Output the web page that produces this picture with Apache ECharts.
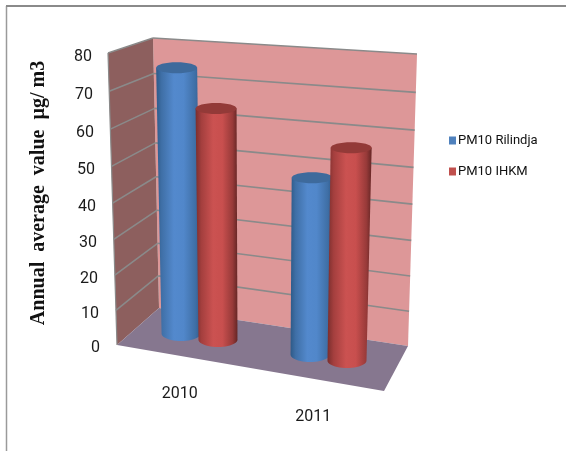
<!DOCTYPE html>
<html><head><meta charset="utf-8">
<style>html,body{margin:0;padding:0;background:#fff}#c{width:566px;height:451px}</style>
<script src="https://cdn.jsdelivr.net/npm/echarts@6/dist/echarts.min.js"></script>
</head><body><div id="c"></div>
<script>
const categories = ['2010', '2011'];
const rilindja = [75, 49];
const ihkm = [65, 58];
const yTicks = [0, 10, 20, 30, 40, 50, 60, 70, 80];
const yName = 'Annual  average  value  µg/ m3';

// Screen corners of the 3-D box at value 0 and at axis max (f/b = front/back, l/r = left/right)
const box = {
  bottom: {fl:[117,345], fr:[384,391], bl:[159,308], br:[408,346]},
  top:    {fl:[108,53],  fr:[393,79],  bl:[153,38],  br:[417,54]}
};
const PERSPECTIVE = 1.058;
const SANS = 'Roboto';
function lerp(a,b,t){return [a[0]+(b[0]-a[0])*t, a[1]+(b[1]-a[1])*t];}
function plane(p,u,d){return lerp(lerp(p.fl,p.fr,u), lerp(p.bl,p.br,u), d);}
// t is the value's fraction of the axis as given by the library's scale
function project(u,d,t){
  const f = t/(t+PERSPECTIVE*(1-t));
  return lerp(plane(box.bottom,u,d), plane(box.top,u,d), f);
}
function frac(params,api,cat,v){
  const g = params.coordSys;
  return (g.y+g.height-api.coord([cat,v])[1])/g.height;
}
function uOf(params,api,cat){
  const g = params.coordSys;
  return (api.coord([cat,0])[0]-g.x)/g.width;
}
const wallColor='#DD9798', sideColor='#8D5F5E', floorColor='#86778F', gridColor='#8A8A8A';

function renderWalls(params,api){
  const poly=(pts,fill)=>({type:'polygon',shape:{points:pts},style:{fill:fill}});
  const P=project;
  const ln=(a,b)=>({type:'line',shape:{x1:a[0],y1:a[1],x2:b[0],y2:b[1]},style:{stroke:gridColor,lineWidth:1.2}});
  return {type:'group',children:[
    poly([P(0,1,0),P(1,1,0),P(1,1,1),P(0,1,1)],wallColor),
    poly([P(0,0,0),P(0,1,0),P(0,1,1),P(0,0,1)],sideColor),
    poly([P(0,0,0),P(1,0,0),P(1,1,0),P(0,1,0)],floorColor),
    ln(P(0,0,0),P(0,0,1))
  ]};
}
function renderGrid(params,api){
  const v=api.value(0);
  const t=frac(params,api,0,v);
  if(t===0){
    return {type:'group',children:[]};
  }
  const ln=(a,b)=>({type:'line',shape:{x1:a[0],y1:a[1],x2:b[0],y2:b[1]},style:{stroke:gridColor,lineWidth:1.6}});
  return {type:'group',children:[ln(project(0,0,t),project(0,1,t)),ln(project(0,1,t),project(1,1,t))]};
}
function cylinder(offset,stops,capColor){
  return function(params,api){
    const cat=api.value(0), val=api.value(1);
    const u=uOf(params,api,cat)+offset;
    const base=project(u,0.5,0), top=project(u,0.5,frac(params,api,cat,val));
    const rxB=19.5, ryB=7.5, rxT=20.5, ryT=5.5;
    const pts=[[top[0]-rxT,top[1]]];
    for(let i=0;i<=24;i++){
      const a=Math.PI*(1-i/24);
      pts.push([base[0]+rxB*Math.cos(a), base[1]+ryB*Math.sin(a)]);
    }
    pts.push([top[0]+rxT,top[1]]);
    return {type:'group',children:[
      {type:'polygon',shape:{points:pts},style:{fill:{type:'linear',x:0,y:0,x2:1,y2:0,colorStops:stops}}},
      {type:'ellipse',shape:{cx:top[0],cy:top[1],rx:rxT,ry:ryT},style:{fill:capColor}}
    ]};
  };
}
const blueStops=[{offset:0,color:'#2E5A88'},{offset:.12,color:'#3F6FA6'},{offset:.4,color:'#5389CD'},{offset:.62,color:'#5187CA'},{offset:.88,color:'#3F6FA6'},{offset:1,color:'#305C8C'}];
const redStops=[{offset:0,color:'#7A2E2D'},{offset:.14,color:'#A43F3E'},{offset:.42,color:'#CB5251'},{offset:.64,color:'#C84F4E'},{offset:.88,color:'#983A39'},{offset:1,color:'#652625'}];

const labelStyles={};
yTicks.forEach(v=>{
  const down={0:2.5,10:5,20:6.5,30:7,40:7.5,50:7,60:6.5,70:5,80:3.5}[v];
  labelStyles['t'+v]={fontFamily:SANS,fontSize:16,color:'#1a1a1a',padding:[down*2,v*0.1,0,0]};
});

const chart=echarts.init(document.getElementById('c'),null,{renderer:'canvas'});
chart.setOption({
  animation:false,
  backgroundColor:'#fff',
  graphic:[
    {type:'line',shape:{x1:6.5,y1:6,x2:6.5,y2:451},style:{stroke:'#9a9a9a',lineWidth:1.5}},
    {type:'line',shape:{x1:6,y1:6,x2:566,y2:6},style:{stroke:'#8a8a8a',lineWidth:2}}
  ],
  legend:{
    orient:'vertical',left:444,top:129,itemWidth:7,itemHeight:8,itemGap:18,
    icon:'rect',
    data:['PM10 Rilindja','PM10 IHKM'],
    textStyle:{fontFamily:SANS,fontSize:13,color:'#111',padding:[0,0,0,-3]}
  },
  grid:{left:117,top:53,width:267,height:292},
  xAxis:{
    type:'category',data:categories,
    axisLine:{show:false},axisTick:{show:false},splitLine:{show:false},
    axisLabel:{
      margin:41,interval:0,
      formatter:(v)=>v==='2011'?'{b|'+v+'}':'{a|'+v+'}',
      rich:{
        a:{fontFamily:SANS,fontSize:16,color:'#1a1a1a',padding:[0,8,0,0]},
        b:{fontFamily:SANS,fontSize:16,color:'#1a1a1a',padding:[23,8,0,0]}
      }
    }
  },
  yAxis:{
    type:'value',min:0,max:80,interval:10,
    axisLine:{show:false},axisTick:{show:false},splitLine:{show:false},
    name:yName,nameLocation:'middle',nameGap:68,nameRotate:90,
    nameTextStyle:{fontFamily:'Liberation Serif',fontWeight:'bold',fontSize:20,color:'#111',padding:[0,0,0,12]},
    axisLabel:{margin:17,formatter:(v)=>'{t'+v+'|'+v+'}',rich:labelStyles}
  },
  series:[
    {type:'custom',name:'walls',silent:true,z:1,renderItem:renderWalls,data:[[0]],tooltip:{show:false}},
    {type:'custom',name:'gridlines',silent:true,z:2,renderItem:renderGrid,data:yTicks.map(v=>[v])},
    {type:'custom',name:'PM10 Rilindja',z:3,itemStyle:{color:'#4F81BD'},renderItem:cylinder(-0.083,blueStops,'#3E6A9C'),
     data:categories.map((c,i)=>[i,rilindja[i]]),encode:{x:0,y:1}},
    {type:'custom',name:'PM10 IHKM',z:4,itemStyle:{color:'#C0504D'},renderItem:cylinder(0.06,redStops,'#933A38'),
     data:categories.map((c,i)=>[i,ihkm[i]]),encode:{x:0,y:1}}
  ]
});
</script></body></html>
